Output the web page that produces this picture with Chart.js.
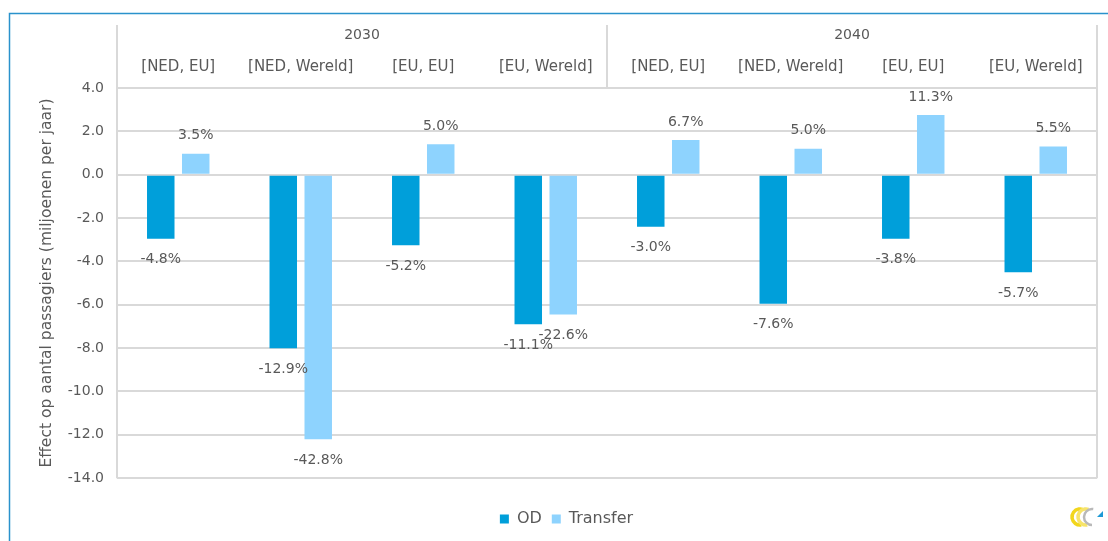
<!DOCTYPE html>
<html>
<head>
<meta charset="utf-8">
<script src="https://cdn.jsdelivr.net/npm/chart.js@4.4.1/dist/chart.umd.min.js"></script>
<style>
  html, body { margin: 0; padding: 0; background: #fff; }
  #wrap { width: 1108px; height: 541px; }
</style>
</head>
<body>
<div id="wrap"><canvas id="chart"></canvas></div>
<script>
// data
var years = ["2030", "2040"];
var routes = ["[NED, EU]", "[NED, Wereld]", "[EU, EU]", "[EU, Wereld]",
              "[NED, EU]", "[NED, Wereld]", "[EU, EU]", "[EU, Wereld]"];
var odValues = [-2.95, -8.0, -3.25, -6.9, -2.4, -5.95, -2.95, -4.5];
var transferValues = [0.97, -12.2, 1.4, -6.45, 1.6, 1.2, 2.75, 1.3];
var odPct = ["-4.8%", "-12.9%", "-5.2%", "-11.1%", "-3.0%", "-7.6%", "-3.8%", "-5.7%"];
var transferPct = ["3.5%", "-42.8%", "5.0%", "-22.6%", "6.7%", "5.0%", "11.3%", "5.5%"];
var yTicks = [4, 2, 0, -2, -4, -6, -8, -10, -12, -14];

var textColor = "#595959";
var gridColor = "#d9d9d9";
var fontFamily = "'DejaVu Sans', sans-serif";

// border round the chart, header dividers and the small logo
var framePlugin = {
  id: "frame",
  beforeDraw: function(chart) {
    var ctx = chart.ctx;
    ctx.save();
    ctx.fillStyle = "#fff";
    ctx.fillRect(0, 0, chart.width, chart.height);
    ctx.strokeStyle = "#2a92cc";
    ctx.lineWidth = 1.5;
    ctx.strokeRect(9.5, 13.5, chart.width + 20, chart.height + 20);
    ctx.restore();
  },
  afterDraw: function(chart) {
    var ctx = chart.ctx;
    var area = chart.chartArea;
    var x = chart.scales.x;
    var half = (x.getPixelForTick(1) - x.getPixelForTick(0)) / 2;
    var headerTop = 25;
    ctx.save();
    ctx.strokeStyle = gridColor;
    ctx.lineWidth = 2;
    ctx.beginPath();
    // left and right border of the header + plot
    ctx.moveTo(area.left, headerTop);
    ctx.lineTo(area.left, area.bottom);
    ctx.moveTo(area.right, headerTop);
    ctx.lineTo(area.right, area.bottom);
    // divider between the two years
    var mid = x.getPixelForTick(3) + half;
    ctx.moveTo(mid, headerTop);
    ctx.lineTo(mid, area.top);
    ctx.stroke();

    // logo
    var lx = 1080, ly = 517;
    ctx.lineWidth = 3.5;
    ctx.strokeStyle = "#f2d61c";
    ctx.beginPath();
    ctx.arc(lx, ly, 8, Math.PI * 0.45, Math.PI * 1.6);
    ctx.stroke();
    ctx.strokeStyle = "#f7e46a";
    ctx.beginPath();
    ctx.arc(lx + 6, ly, 8, Math.PI * 0.45, Math.PI * 1.6);
    ctx.stroke();
    ctx.strokeStyle = "#b9b9b9";
    ctx.lineWidth = 2.5;
    ctx.beginPath();
    ctx.arc(lx + 12, ly, 8, Math.PI * 0.5, Math.PI * 1.55);
    ctx.stroke();
    ctx.fillStyle = "#1d9ad6";
    ctx.beginPath();
    ctx.moveTo(lx + 23, ly - 6);
    ctx.lineTo(lx + 23, ly);
    ctx.lineTo(lx + 17, ly);
    ctx.closePath();
    ctx.fill();
    ctx.restore();
  }
};

// percentage labels at the end of each bar
var labelPlugin = {
  id: "pctLabels",
  afterDatasetsDraw: function(chart) {
    var ctx = chart.ctx;
    var texts = [odPct, transferPct];
    ctx.save();
    ctx.font = "14px " + fontFamily;
    ctx.fillStyle = textColor;
    ctx.textAlign = "center";
    ctx.textBaseline = "middle";
    chart.data.datasets.forEach(function(ds, di) {
      var meta = chart.getDatasetMeta(di);
      meta.data.forEach(function(bar, i) {
        var v = ds.data[i];
        var y = v >= 0 ? bar.y - 18 : bar.y + 21;
        ctx.fillText(texts[di][i], bar.x, y);
      });
    });
    ctx.restore();
  }
};

var ctx = document.getElementById("chart").getContext("2d");
var chart = new Chart(ctx, {
  type: "bar",
  data: {
    labels: routes,
    datasets: [
      {
        label: "OD",
        data: odValues,
        backgroundColor: "#009fda",
        categoryPercentage: 0.571,
        barPercentage: 0.786
      },
      {
        label: "Transfer",
        data: transferValues,
        backgroundColor: "#8ed3fe",
        categoryPercentage: 0.571,
        barPercentage: 0.786
      }
    ]
  },
  options: {
    responsive: true,
    maintainAspectRatio: false,
    animation: false,
    layout: { padding: { left: 36, right: 11, top: 22, bottom: 4 } },
    plugins: {
      legend: {
        position: "bottom",
        title: {
          display: true,
          text: " ",
          padding: { top: 3, bottom: 3 },
          font: { family: fontFamily, size: 14 }
        },
        labels: {
          boxWidth: 9,
          boxHeight: 9,
          padding: 10,
          color: textColor,
          font: { family: fontFamily, size: 16 }
        }
      },
      tooltip: { enabled: false }
    },
    scales: {
      x: {
        position: "top",
        weight: 0,
        grid: { display: false },
        border: { display: false },
        ticks: {
          color: textColor,
          padding: 4,
          maxRotation: 0,
          autoSkip: false,
          font: { family: fontFamily, size: 15 }
        },
        afterFit: function(scale) { scale.height = 36; }
      },
      x2: {
        type: "category",
        labels: years,
        position: "top",
        weight: 1,
        grid: { display: false },
        border: { display: false },
        ticks: {
          color: textColor,
          padding: 0,
          font: { family: fontFamily, size: 14 }
        },
        afterFit: function(scale) { scale.height = 30; }
      },
      y: {
        min: -14,
        max: 4,
        afterBuildTicks: function(scale) {
          scale.ticks = yTicks.map(function(v) { return { value: v }; });
        },
        grid: { color: gridColor, lineWidth: 2, drawTicks: false },
        border: { display: false },
        ticks: {
          color: textColor,
          padding: 13,
          font: { family: fontFamily, size: 14 },
          callback: function(v) { return Number(v).toFixed(1); }
        },
        title: {
          display: true,
          text: "Effect op aantal passagiers (miljoenen per jaar)",
          color: textColor,
          padding: { top: 2, bottom: 0 },
          font: { family: fontFamily, size: 15.5 }
        },
        afterFit: function(scale) { scale.width = 81; }
      }
    }
  },
  plugins: [framePlugin, labelPlugin]
});
</script>
</body>
</html>
